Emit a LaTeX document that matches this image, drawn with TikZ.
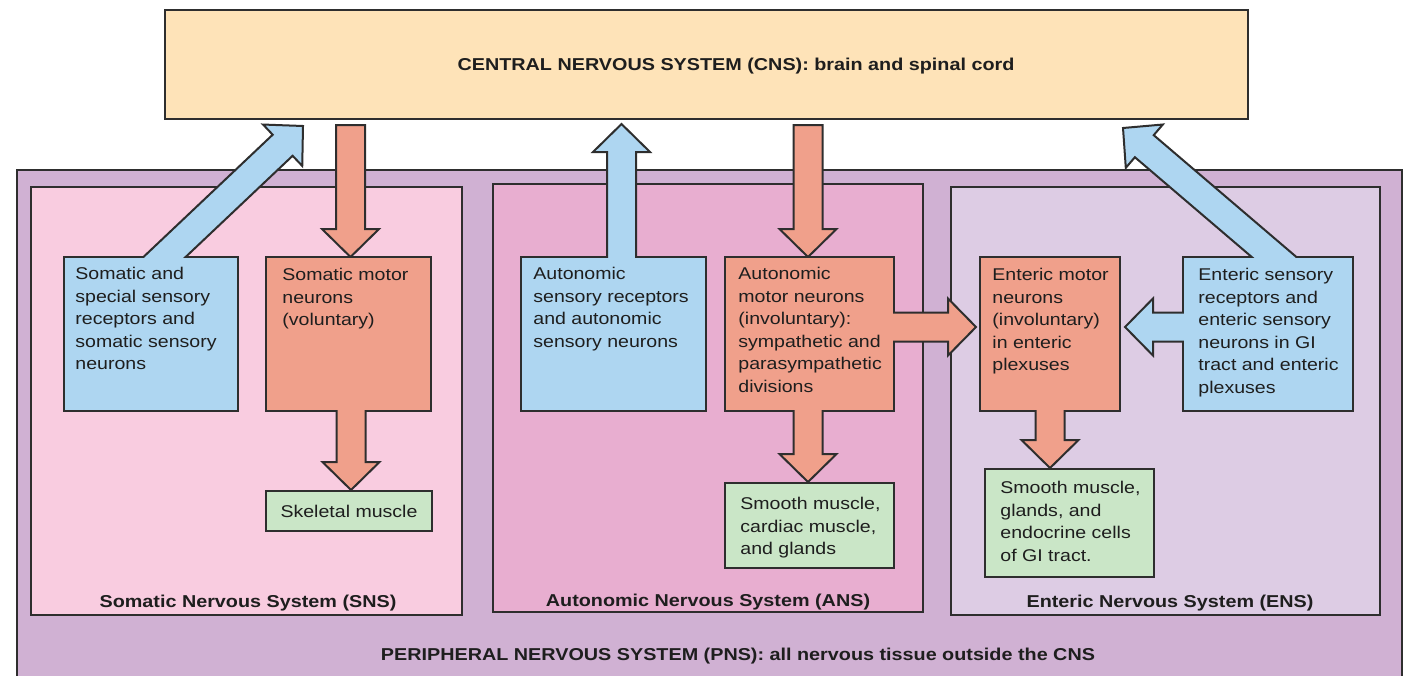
\documentclass[tikz,border=0pt]{standalone}
\usepackage{fontspec}
\setmainfont{Liberation Sans}[FakeStretch=1.15]
\usetikzlibrary{calc}
\definecolor{cnsc}{HTML}{FEE3B8}
\definecolor{pnsc}{HTML}{D0B1D3}
\definecolor{snsc}{HTML}{F9CCE0}
\definecolor{ansc}{HTML}{E8AED0}
\definecolor{ensc}{HTML}{DDCCE4}
\definecolor{bluec}{HTML}{AED6F1}
\definecolor{orangec}{HTML}{F0A08B}
\definecolor{greenc}{HTML}{CAE6C7}
\definecolor{linec}{HTML}{2E2E2E}
\definecolor{textc}{HTML}{1E1E1E}
\tikzset{
  panel/.style={draw=linec, line width=1pt, inner sep=0pt, outer sep=0pt, rectangle},
  txt/.style={anchor=north west, inner sep=0pt, align=left, font=\fontsize{8.5}{11.25}\selectfont, text=textc},
  plain/.style={inner sep=0pt, font=\fontsize{8.5}{11.25}\selectfont, text=textc},
  ttl/.style={anchor=base, inner sep=0pt, font=\fontsize{8.6}{10}\selectfont\bfseries, text=textc},
  fat/.style={draw=linec, line width=1pt, line join=miter},
}
% style, name, x1, y1, x2, y2 (pixels)
\newcommand\panelbox[6]{%
  \node[panel,#1,minimum width={(#5-#3)*0.5pt},minimum height={(#6-#4)*0.5pt}] (#2) at ({(#3+#5)/2},{(#4+#6)/2}) {};}
\newcommand\cover[2]{%
  \fill[#1] ([shift={(0.5pt,-0.5pt)}]#2.north west) rectangle ([shift={(-0.5pt,0.5pt)}]#2.south east);}
% fill, start, tip, closing
\newcommand\fatarrow[4]{%
  \coordinate (fah) at ($(#3)!14pt!(#2)$);
  \draw[fat,fill=#1] ($(#2)!7.25pt!-90:(#3)$) -- ($(fah)!7.25pt!-90:(#3)$) -- ($(fah)!14.25pt!-90:(#3)$) -- (#3) -- ($(fah)!14.25pt!90:(#3)$) -- ($(fah)!7.25pt!90:(#3)$) -- ($(#2)!7.25pt!90:(#3)$) #4;}
\begin{document}
\begin{tikzpicture}[x=0.5pt,y=-0.5pt]
\useasboundingbox (0,0) rectangle (1406,675);
\clip (0,0) rectangle (1406,675);
% big panels
\panelbox{fill=pnsc}{pns}{17}{170}{1402}{700}
\panelbox{fill=snsc}{sns}{31}{187}{462}{615}
\panelbox{fill=ansc}{ans}{493}{184}{923}{612}
\panelbox{fill=ensc}{ens}{951}{187}{1380}{615}
\panelbox{fill=cnsc}{cns}{165}{10}{1248}{119}
% inner boxes
\panelbox{fill=bluec}{sb}{64}{257}{238}{411}
\panelbox{fill=orangec}{sm}{266}{257}{431}{411}
\panelbox{fill=greenc}{sk}{266}{491}{432}{531}
\panelbox{fill=bluec}{ab}{521}{257}{706}{411}
\panelbox{fill=orangec}{am}{725}{257}{894}{411}
\panelbox{fill=greenc}{ag}{725}{483}{894}{568}
\panelbox{fill=orangec}{em}{980}{257}{1120}{411}
\panelbox{fill=bluec}{eb}{1183}{257}{1353}{411}
\panelbox{fill=greenc}{eg}{985}{469}{1154}{577}
% arrow end points
\coordinate (a1s) at (140.2,280);  \coordinate (a1t) at (303,126);
\coordinate (a2s) at (350.5,125);  \coordinate (a2t) at (350.5,257);
\coordinate (a3s) at (351,400);    \coordinate (a3t) at (351,490);
\coordinate (a4s) at (621.5,275);  \coordinate (a4t) at (621.5,124);
\coordinate (a5s) at (808,125);    \coordinate (a5t) at (808,257);
\coordinate (a6s) at (808,400);    \coordinate (a6t) at (808,482);
\coordinate (a7s) at (880,327);    \coordinate (a7t) at (976,327);
\coordinate (a8s) at (1195,327);   \coordinate (a8t) at (1125,327);
\coordinate (a9s) at (1050,400);   \coordinate (a9t) at (1050,468);
\coordinate (a10s) at (1301,280);  \coordinate (a10t) at (1123,128);
% arrows
\fatarrow{bluec}{a1s}{a1t}{}
\fatarrow{orangec}{a2s}{a2t}{-- cycle}
\fatarrow{orangec}{a3s}{a3t}{}
\fatarrow{bluec}{a4s}{a4t}{}
\fatarrow{orangec}{a5s}{a5t}{-- cycle}
\fatarrow{orangec}{a6s}{a6t}{}
\fatarrow{orangec}{a7s}{a7t}{}
\fatarrow{bluec}{a8s}{a8t}{}
\fatarrow{orangec}{a9s}{a9t}{}
\fatarrow{bluec}{a10s}{a10t}{}
% covers to merge arrow bases into boxes
\cover{bluec}{sb}
\cover{orangec}{sm}
\cover{bluec}{ab}
\cover{orangec}{am}
\cover{orangec}{em}
\cover{bluec}{eb}
% texts
\node[txt] (sbt) at (75,267) {Somatic and\\special sensory\\receptors and\\somatic sensory\\neurons};
\node[txt] (smt) at (282,268) {Somatic motor\\neurons\\(voluntary)};
\node[plain] (skt) at (sk.center) {Skeletal muscle};
\node[txt] (abt) at (533,267) {Autonomic\\sensory receptors\\and autonomic\\sensory neurons};
\node[txt] (amt) at (738,267) {Autonomic\\motor neurons\\(involuntary):\\sympathetic and\\parasympathetic\\divisions};
\node[txt] (agt) at (740,497) {Smooth muscle,\\cardiac muscle,\\and glands};
\node[txt] (emt) at (992,268) {Enteric motor\\neurons\\(involuntary)\\in enteric\\plexuses};
\node[txt] (ebt) at (1198,268) {Enteric sensory\\receptors and\\enteric sensory\\neurons in GI\\tract and enteric\\plexuses};
\node[txt] (egt) at (1000,481) {Smooth muscle,\\glands, and\\endocrine cells\\of GI tract.};
% titles
\node[ttl] (cnsl) at (736,70) {CENTRAL NERVOUS SYSTEM (CNS): brain and spinal cord};
\node[ttl] (pnsl) at (738,660) {PERIPHERAL NERVOUS SYSTEM (PNS): all nervous tissue outside the CNS};
\node[ttl] (snsl) at (248,607) {Somatic Nervous System (SNS)};
\node[ttl] (ansl) at (708,606) {Autonomic Nervous System (ANS)};
\node[ttl] (ensl) at (1170,607) {Enteric Nervous System (ENS)};
\end{tikzpicture}
\end{document}
